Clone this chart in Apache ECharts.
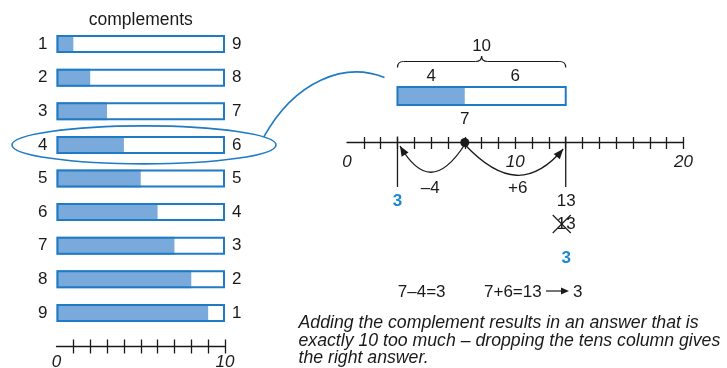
<!DOCTYPE html>
<html><head><meta charset="utf-8">
<script src="https://cdn.jsdelivr.net/npm/echarts@6/dist/echarts.min.js"></script>
<style>html,body{margin:0;padding:0;background:#fff}#c{width:727px;height:368px}</style>
</head><body><div id="c"></div>
<script>
// ---- data ----
const rowNumbers = ['1','2','3','4','5','6','7','8','9'];
const fillValues = [1,2,3,4,5,6,7,8,9];
const complementLabels = ['9','8','7','6','5','4','3','2','1'];
const barTotals = [10,10,10,10,10,10,10,10,10];
const leftTicks = [1,2,3,4,5,6,7,8,9,10];
const leftTickLabels = [0,10];
const lineTicks = [1,2,3,4,5,6,7,8,9,10,11,12,13,14,15,16,17,18,19,20];
const lineTickLabels = [0,10,20];
const highlightRow = '4';
const startValue = 7;
const lowResult = 3;
const highResult = 13;
const bracketTotal = '10';
const partDown = '4';
const partUp = '6';
const stepDownLabel = '\u20134';
const stepUpLabel = '+6';
const finalResult = '3';
const eqDown = '7\u20134=3';
const eqUp = '7+6=13';
const caption = 'Adding the complement results in an answer that is\nexactly 10 too much \u2013 dropping the tens column gives\nthe right answer.';

// ---- styling ----
const FF = '"Liberation Sans", Arial, Helvetica, sans-serif';
const INK = '#1a1a1a';
const BLUE = '#1f7bc4';
const FILL = '#7aaadb';
const TXTBLUE = '#1c88d2';
const font = (s, extra) => (extra ? extra + ' ' : '') + s + 'px ' + FF;

const chart = echarts.init(document.getElementById('c'), null, {renderer: 'canvas'});

function arrowParts(x0, y0a, x1, y1, depth, d1, d2) {
  const d = x1 - x0;
  const c1x = x0 + d1 * d, c1y = y0a + depth;
  const c2x = x1 - d2 * d, c2y = y1 + depth - 4;
  const curve = {type: 'bezierCurve', shape: {x1: x0, y1: y0a, x2: x1, y2: y1, cpx1: c1x, cpy1: c1y, cpx2: c2x, cpy2: c2y}, style: {fill: 'none', stroke: INK, lineWidth: 1.3}};
  let ux = x1 - c2x, uy = y1 - c2y; const L = Math.hypot(ux, uy); ux /= L; uy /= L;
  const len = 10, hw = 4;
  const bx = x1 - ux * len, by = y1 - uy * len;
  const head = {type: 'polygon', shape: {points: [[x1, y1], [bx - uy * hw, by + ux * hw], [bx + uy * hw, by - ux * hw]]}, style: {fill: INK}};
  return [curve, head];
}

function renderNumberLine(params, api) {
  const start = api.value(0);
  const xs = v => api.coord([v, 0])[0];
  const y0 = api.coord([0, 0])[1];
  const xL = xs(lowResult), xS = xs(start), xH = xs(highResult), xM = (xL + xH) / 2;
  const txt = (t, x, y, st) => ({type: 'text', x: x, y: y, style: Object.assign({text: t, fill: INK, font: font(17), align: 'center', verticalAlign: 'middle'}, st || {})});
  const ln = (a, b, c, d, w) => ({type: 'line', shape: {x1: a, y1: b, x2: c, y2: d}, style: {stroke: INK, lineWidth: w || 1.3}});
  const qb = (a, b, cx, cy, c, d) => ({type: 'bezierCurve', shape: {x1: a, y1: b, cpx1: cx, cpy1: cy, x2: c, y2: d}, style: {fill: 'none', stroke: INK, lineWidth: 1.2}});
  const ch = [];
  // bar 3..13 with 3..7 filled
  ch.push({type: 'rect', shape: {x: xL, y: y0 - 55.5, width: xS - xL, height: 18}, style: {fill: FILL}});
  ch.push({type: 'rect', shape: {x: xL, y: y0 - 55.5, width: xH - xL, height: 18}, style: {fill: 'none', stroke: BLUE, lineWidth: 2}});
  // brace
  const by = y0 - 81, bt = y0 - 75, bp = y0 - 86.5;
  ch.push(qb(xL, bt, xL, by, xL + 6, by));
  ch.push(ln(xL + 6, by, xM - 6, by, 1.2));
  ch.push(qb(xM - 6, by, xM, by, xM, bp));
  ch.push(qb(xM, bp, xM, by, xM + 6, by));
  ch.push(ln(xM + 6, by, xH - 6, by, 1.2));
  ch.push(qb(xH - 6, by, xH, by, xH, bt));
  ch.push(txt(bracketTotal, xM, y0 - 96));
  ch.push(txt(partDown, (xL + xS) / 2, y0 - 66));
  ch.push(txt(partUp, (xS + xH) / 2, y0 - 66));
  ch.push(txt(String(start), xS, y0 - 23.5));
  // vertical guides
  ch.push(ln(xL, y0 - 6, xL, y0 + 44.5));
  ch.push(ln(xH, y0 - 6, xH, y0 + 44.5));
  // arrows
  arrowParts(xS, y0 + 2, xL + 2.5, y0 + 3.5, 38, 0.38, 0.31).forEach(e => ch.push(e));
  arrowParts(xS, y0 + 2, xH - 2.5, y0 + 6.5, 40, 0.38, 0.31).forEach(e => ch.push(e));
  ch.push(txt(stepDownLabel, (xL + xS) / 2 - 1, y0 + 45.5));
  ch.push(txt(stepUpLabel, (xS + xH) / 2 + 2.5, y0 + 45.5));
  // dot
  ch.push({type: 'circle', shape: {cx: xS, cy: y0, r: 4.5}, style: {fill: INK}});
  // results
  ch.push(txt(String(lowResult), xL, y0 + 58.5, {fill: TXTBLUE, font: font(17, 'bold')}));
  ch.push(txt(String(highResult), xH + 0.5, y0 + 58.5));
  ch.push(txt(String(highResult), xH + 0.5, y0 + 81.5));
  const cx = xH - 4, cy = y0 + 81.5;
  ch.push(ln(cx - 9, cy - 9, cx + 9, cy + 9, 1.1));
  ch.push(ln(cx + 9, cy - 9, cx - 9, cy + 9, 1.1));
  ch.push(txt(finalResult, xH + 0.5, y0 + 116, {fill: TXTBLUE, font: font(17, 'bold')}));
  return {type: 'group', children: ch};
}

const axisTickStyle = {color: INK, width: 1.3};
const option = {
  animation: false,
  backgroundColor: '#fff',
  textStyle: {fontFamily: FF},
  grid: [
    {left: 56.5, width: 168.5, top: 27.2, height: 302.6, outerBoundsMode: 'none', containLabel: false},
    {left: 347, width: 336.5, top: 20, height: 122.5, outerBoundsMode: 'none', containLabel: false}
  ],
  xAxis: [
    {gridIndex: 0, type: 'value', min: 0, max: 10, position: 'bottom', offset: 16.2, splitLine: {show: false},
     axisLine: {show: true, onZero: false, lineStyle: {color: INK, width: 1.3}},
     axisTick: {show: true, customValues: leftTicks, inside: true, length: 6.5, lineStyle: axisTickStyle},
     axisLabel: {show: false}},
    {gridIndex: 0, type: 'value', min: 0, max: 10, position: 'bottom', offset: 16.2, splitLine: {show: false},
     axisLine: {show: false, onZero: false},
     axisTick: {show: true, customValues: leftTicks, inside: false, length: 7.5, lineStyle: axisTickStyle},
     axisLabel: {customValues: leftTickLabels, fontStyle: 'italic', fontSize: 17, fontFamily: FF, color: INK, margin: 8}},
    {gridIndex: 1, type: 'value', min: 0, max: 20, position: 'bottom', offset: 0, splitLine: {show: false},
     axisLine: {show: true, onZero: false, lineStyle: {color: INK, width: 1.3}},
     axisTick: {show: true, customValues: lineTicks, inside: true, length: 5.5, lineStyle: axisTickStyle},
     axisLabel: {show: false}},
    {gridIndex: 1, type: 'value', min: 0, max: 20, position: 'bottom', offset: 0, splitLine: {show: false},
     axisLine: {show: false, onZero: false},
     axisTick: {show: true, customValues: lineTicks, inside: false, length: 6.5, lineStyle: axisTickStyle},
     axisLabel: {customValues: lineTickLabels, fontStyle: 'italic', fontSize: 17, fontFamily: FF, color: INK, margin: 11}}
  ],
  yAxis: [
    {gridIndex: 0, type: 'category', data: rowNumbers, inverse: true, axisLine: {show: false}, axisTick: {show: false},
     axisLabel: {fontSize: 17, fontFamily: FF, color: INK, margin: 9}},
    {gridIndex: 0, type: 'category', data: complementLabels, inverse: true, position: 'right', axisLine: {show: false}, axisTick: {show: false},
     axisLabel: {fontSize: 17, fontFamily: FF, color: INK, margin: 7}},
    {gridIndex: 1, type: 'value', min: 0, max: 1, show: false}
  ],
  series: [
    {type: 'bar', xAxisIndex: 0, yAxisIndex: 0, data: fillValues, barWidth: 18, barGap: '-100%', silent: true,
     itemStyle: {color: FILL}},
    {type: 'bar', xAxisIndex: 0, yAxisIndex: 0, data: barTotals, barWidth: 18, barGap: '-100%', silent: true,
     itemStyle: {color: 'rgba(0,0,0,0)', borderColor: BLUE, borderWidth: 2}},
    {type: 'custom', xAxisIndex: 2, yAxisIndex: 2, data: [[startValue]], renderItem: renderNumberLine, silent: true, clip: false}
  ]
};
chart.setOption(option);

// annotations positioned from the axes
const rowY = chart.convertToPixel({yAxisIndex: 0}, rowNumbers.indexOf(highlightRow));
const x0 = chart.convertToPixel({xAxisIndex: 0}, 0);
const x10 = chart.convertToPixel({xAxisIndex: 0}, 10);
const ex1 = x0 - 44.5, ex2 = x10 + 51;
const ecx = (ex1 + ex2) / 2, erx = (ex2 - ex1) / 2, ery = 19, ecy = rowY;
const ang = -24.8 * Math.PI / 180;
const sx = ecx + erx * Math.cos(ang), sy = ecy + ery * Math.sin(ang);
const lineX3 = chart.convertToPixel({xAxisIndex: 2}, lowResult);
const lineY0 = chart.convertToPixel({yAxisIndex: 2}, 0);
const tx = lineX3 - 13, ty = lineY0 - 65;

const eqY = 292;
chart.setOption({
  graphic: [
    {type: 'text', x: (x0 + x10) / 2, y: 20.5, style: {text: 'complements', font: font(17.5), fill: INK, align: 'center', verticalAlign: 'middle'}},
    {type: 'ellipse', shape: {cx: ecx, cy: ecy, rx: erx, ry: ery}, style: {fill: 'none', stroke: BLUE, lineWidth: 1.6}},
    {type: 'bezierCurve', shape: {x1: sx, y1: sy, cpx1: sx + 31, cpy1: sy - 56, cpx2: tx - 40, cpy2: ty - 16, x2: tx, y2: ty}, style: {fill: 'none', stroke: BLUE, lineWidth: 1.6}},
    {type: 'text', x: 421.7, y: eqY, style: {text: eqDown, font: font(17), fill: INK, align: 'center', verticalAlign: 'middle'}},
    {type: 'text', x: 484, y: eqY, style: {text: eqUp, font: font(17), fill: INK, align: 'left', verticalAlign: 'middle'}},
    {type: 'line', shape: {x1: 546, y1: eqY - 1, x2: 562, y2: eqY - 1}, style: {stroke: INK, lineWidth: 1.2}},
    {type: 'polygon', shape: {points: [[569, eqY - 1], [561, eqY - 4.5], [561, eqY + 2.5]]}, style: {fill: INK}},
    {type: 'text', x: 573, y: eqY, style: {text: finalResult, font: font(17), fill: INK, align: 'left', verticalAlign: 'middle'}},
    {type: 'text', x: 298.5, y: 314.5, style: {text: caption, font: font(17.7, 'italic'), lineHeight: 17.5, fill: INK, align: 'left', verticalAlign: 'top'}}
  ]
});
</script>
</body></html>
